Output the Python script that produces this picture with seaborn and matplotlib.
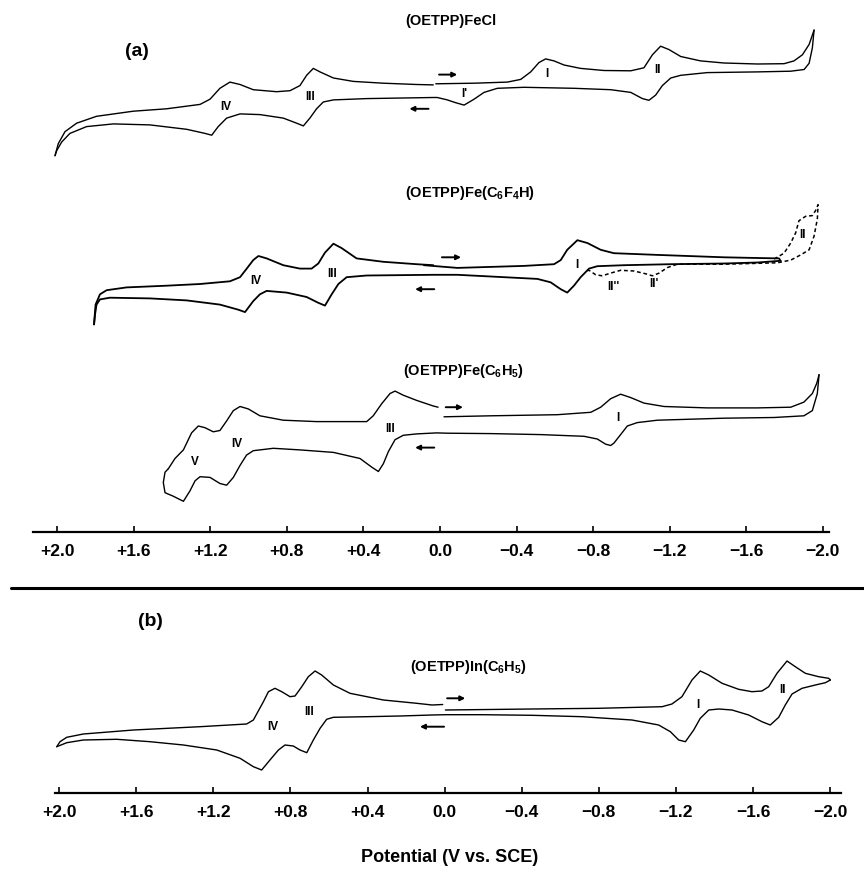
import numpy as np
import matplotlib
matplotlib.use('Agg')
import matplotlib.pyplot as plt
from matplotlib.lines import Line2D
import seaborn as sns

sns.set_theme(style='white')
plt.rcParams['font.family'] = ['Liberation Sans', 'DejaVu Sans']
plt.rcParams['text.color'] = 'black'
plt.rcParams['xtick.color'] = 'black'
plt.rcParams['mathtext.fontset'] = 'custom'
plt.rcParams['mathtext.bf'] = 'Liberation Sans:bold'
plt.rcParams['mathtext.rm'] = 'Liberation Sans:bold'
plt.rcParams['mathtext.default'] = 'bf'

# ── data: potential (V vs SCE) and current (arb. units) ──────────
tick_vals = [2.0, 1.6, 1.2, 0.8, 0.4, 0.0, -0.4, -0.8, -1.2, -1.6, -2.0]
tick_text = ['+2.0', '+1.6', '+1.2', '+0.8', '+0.4', '0.0',
             '\u22120.4', '\u22120.8', '\u22121.2', '\u22121.6', '\u22122.0']

# (OETPP)FeCl
fecl_fwd_E = [0.022, -0.178, -0.352, -0.422, -0.474, -0.517, -0.552, -0.596, -0.648,
              -0.735, -0.857, -0.997, -1.066, -1.110, -1.153, -1.197, -1.258, -1.362,
              -1.484, -1.659, -1.798, -1.850, -1.894, -1.929, -1.955]
fecl_fwd_I = [6.2, 6.8, 7.9, 10.6, 18.1, 27.4, 31.1, 29.1, 25.0, 21.6, 19.5, 19.2, 22.2,
              35.2, 43.8, 40.4, 33.5, 29.1, 27.0, 26.0, 26.3, 29.1, 35.2, 45.5, 59.9]
fecl_rev_E = [-1.955, -1.946, -1.929, -1.903, -1.833, -1.659, -1.397, -1.258, -1.206,
              -1.162, -1.127, -1.092, -1.058, -0.997, -0.892, -0.700, -0.439, -0.300,
              -0.230, -0.178, -0.126, -0.082, -0.038, 0.014, 0.035, 0.383, 0.557,
              0.610, 0.645, 0.680, 0.714, 0.749, 0.819, 0.941, 1.045, 1.115, 1.159,
              1.193, 1.228, 1.324, 1.516, 1.707, 1.847, 1.934, 1.977, 2.003, 2.012]
fecl_rev_I = [59.9, 42.1, 26.7, 20.5, 18.8, 18.1, 17.4, 14.7, 12.0, 4.4, -5.1, -10.3,
              -8.6, -2.4, 0.3, 1.7, 2.7, 1.7, -2.4, -9.2, -15.1, -12.7, -9.9, -7.5,
              -7.5, -8.6, -9.9, -12.0, -18.8, -28.1, -35.9, -33.2, -28.1, -24.6,
              -23.9, -28.1, -36.6, -45.2, -43.4, -39.3, -34.9, -33.9, -36.6, -43.4,
              -52.0, -60.6, -65.7]
fecl_ret_E = [2.012, 1.995, 1.960, 1.899, 1.795, 1.603, 1.429, 1.254, 1.202, 1.150,
              1.098, 1.045, 0.976, 0.854, 0.784, 0.732, 0.697, 0.662, 0.627, 0.557,
              0.453, 0.296, 0.122, 0.035]
fecl_ret_I = [-65.7, -53.7, -41.7, -33.2, -26.3, -21.2, -18.8, -14.4, -9.2, 1.7, 7.9,
              5.5, 0.3, -1.7, -0.7, 4.4, 14.7, 21.6, 18.1, 12.0, 8.6, 6.8, 5.5, 5.1]

# (OETPP)Fe(C6F4H)
c6f4h_fwd_E = [0.084, -0.091, -0.265, -0.439, -0.596, -0.631, -0.665, -0.718, -0.770,
               -0.840, -0.909, -1.136, -1.484, -1.659, -1.772, -1.780]
c6f4h_fwd_I = [4.8, 2.1, 3.1, 4.1, 5.8, 9.9, 20.2, 29.8, 27.0, 20.2, 16.8, 15.1, 12.7,
               12.0, 11.6, 9.2]
c6f4h_rev_E = [-1.780, -1.659, -1.484, -1.206, -0.962, -0.822, -0.779, -0.735, -0.700,
               -0.665, -0.631, -0.578, -0.509, -0.265, -0.091, 0.035, 0.383, 0.488,
               0.531, 0.566, 0.601, 0.636, 0.697, 0.801, 0.906, 0.941, 0.976, 1.019,
               1.054, 1.150, 1.324, 1.516, 1.725, 1.777, 1.795, 1.803, 1.808]
c6f4h_rev_I = [9.2, 7.5, 6.5, 5.8, 4.8, 3.8, 1.4, -7.2, -15.7, -22.6, -19.2, -12.3,
               -8.9, -6.5, -4.8, -4.8, -5.5, -7.2, -14.0, -24.3, -35.6, -32.8, -27.0,
               -22.6, -20.9, -24.3, -31.1, -42.1, -39.7, -34.6, -30.4, -28.4, -27.7,
               -29.4, -34.6, -44.8, -54.4]
c6f4h_ret_E = [1.808, 1.800, 1.777, 1.742, 1.638, 1.429, 1.254, 1.098, 1.045, 1.010,
               0.976, 0.949, 0.906, 0.819, 0.732, 0.671, 0.636, 0.601, 0.557, 0.514,
               0.436, 0.296, 0.122, 0.035]
c6f4h_ret_I = [-54.4, -34.6, -24.3, -20.2, -17.4, -15.7, -14.0, -11.3, -7.2, 1.4, 9.9,
               14.0, 11.6, 4.8, 1.4, 1.4, 6.5, 17.4, 26.3, 21.9, 11.6, 8.2, 5.8, 4.8]
# dashed scan to -2.0 V
c6f4h_dash_E = [-1.746, -1.798, -1.833, -1.859, -1.876, -1.911, -1.946, -1.963, -1.976,
                -1.972, -1.955, -1.929, -1.885, -1.833, -1.763, -1.484, -1.240, -1.188,
                -1.145, -1.110, -1.075, -1.014, -0.944, -0.892, -0.848, -0.814, -0.779,
                -0.753]
c6f4h_dash_I = [10.9, 16.8, 27.0, 37.3, 49.3, 53.7, 54.4, 59.5, 65.3, 51.0, 33.9, 20.2,
                15.1, 9.9, 7.2, 5.8, 5.8, 2.4, -3.1, -5.8, -3.8, -1.0, -0.3, -3.1, -5.8,
                -4.8, -0.3, -1.0]

# (OETPP)Fe(C6H5)
c6h5_fwd_E = [-0.021, -0.265, -0.613, -0.788, -0.840, -0.892, -0.944, -0.997, -1.066,
              -1.171, -1.397, -1.659, -1.833, -1.902, -1.946, -1.969, -1.981]
c6h5_fwd_I = [8.2, 9.2, 10.3, 12.7, 17.8, 26.3, 30.8, 27.4, 21.9, 18.5, 17.1, 17.1,
              17.8, 22.9, 31.5, 41.7, 50.3]
c6h5_rev_E = [-1.981, -1.972, -1.946, -1.902, -1.746, -1.484, -1.136, -1.031, -0.979,
              -0.944, -0.909, -0.892, -0.866, -0.822, -0.753, -0.526, -0.265, -0.038,
              0.017, 0.122, 0.192, 0.235, 0.270, 0.296, 0.322, 0.357, 0.418, 0.557,
              0.732, 0.871, 0.976, 1.011, 1.045, 1.080, 1.115, 1.150, 1.202, 1.254,
              1.280, 1.307, 1.341, 1.394, 1.437, 1.446, 1.437, 1.420]
c6h5_rev_I = [50.3, 31.5, 14.4, 9.2, 7.5, 6.8, 4.8, 2.4, -1.0, -9.6, -18.1, -20.5,
              -19.2, -14.0, -11.3, -9.6, -8.6, -8.2, -7.9, -8.9, -10.3, -14.7, -26.7,
              -38.7, -46.5, -42.1, -33.5, -27.4, -24.9, -23.3, -25.7, -30.1, -40.4,
              -52.4, -60.2, -58.5, -52.4, -51.7, -55.8, -66.0, -76.3, -71.2, -67.7,
              -57.5, -47.2, -43.8]
c6h5_ret_E = [1.420, 1.385, 1.341, 1.298, 1.263, 1.228, 1.185, 1.150, 1.115, 1.080,
              1.045, 1.002, 0.941, 0.819, 0.645, 0.383, 0.349, 0.305, 0.261, 0.235,
              0.192, 0.122, 0.035, 0.010]
c6h5_ret_I = [-43.8, -33.5, -24.9, -7.8, -1.0, -2.7, -6.8, -5.5, 4.1, 14.4, 18.5, 16.1,
              9.2, 4.8, 3.4, 3.4, 9.2, 21.2, 31.5, 33.9, 29.8, 24.6, 19.0, 17.8]

# (OETPP)In(C6H5)
in_fwd_E = [-0.004, -0.453, -0.799, -1.128, -1.179, -1.231, -1.283, -1.326, -1.370,
            -1.439, -1.525, -1.594, -1.646, -1.681, -1.724, -1.776, -1.819, -1.871,
            -1.940, -1.992, -2.001]
in_fwd_I = [1.0, 2.0, 2.7, 4.3, 7.0, 14.3, 31.0, 40.0, 36.0, 27.7, 21.7, 19.3, 20.0,
            24.3, 37.7, 50.0, 44.3, 37.7, 34.3, 32.7, 31.0]
in_rev_E = [-2.001, -1.975, -1.923, -1.854, -1.802, -1.767, -1.733, -1.689, -1.646,
            -1.577, -1.491, -1.422, -1.370, -1.326, -1.292, -1.249, -1.214, -1.171,
            -1.110, -0.972, -0.713, -0.453, -0.194, -0.004, 0.065, 0.231, 0.404,
            0.577, 0.612, 0.646, 0.681, 0.715, 0.750, 0.785, 0.828, 0.862, 0.906,
            0.949, 0.992, 1.061, 1.182, 1.355, 1.528, 1.701, 1.874, 1.960, 2.012]
in_rev_I = [31.0, 28.3, 26.0, 22.7, 17.0, 6.0, -6.3, -14.0, -10.7, -4.0, 1.0, 2.0, 1.0,
            -7.3, -19.0, -30.7, -29.0, -20.7, -14.0, -9.0, -5.7, -4.3, -3.7, -3.7,
            -4.0, -5.0, -5.7, -6.3, -8.3, -17.3, -29.0, -41.7, -39.0, -35.0, -34.0,
            -39.0, -49.0, -59.0, -55.7, -47.3, -39.0, -34.0, -30.7, -28.3, -29.0,
            -31.7, -35.7]
in_ret_E = [2.012, 1.995, 1.960, 1.874, 1.614, 1.269, 1.027, 0.992, 0.940, 0.914, 0.880,
            0.845, 0.802, 0.776, 0.741, 0.707, 0.672, 0.638, 0.577, 0.491, 0.318,
            0.145, 0.065, 0.010]
in_ret_I = [-35.7, -30.7, -26.3, -23.0, -19.0, -15.7, -13.0, -9.0, 9.3, 19.3, 22.7,
            19.3, 14.3, 15.0, 24.3, 34.3, 40.0, 36.0, 26.0, 17.7, 11.0, 7.7, 6.0, 6.5]

# peak labels: (text, E, current)
fecl_labels = [('IV', 1.118, -17.1), ('III', 0.680, -7.5), ("I'", -0.126, -4.1),
               ('I', -0.561, 16.4), ('II', -1.136, 19.8)]
c6f4h_labels = [('IV', 0.962, -10.6), ('III', 0.566, -3.8), ('I', -0.714, 4.8),
                ("II''", -0.906, -17.4), ("II'", -1.119, -14.0), ('II', -1.897, 34.6)]
c6h5_labels = [('V', 1.280, -36.9), ('IV', 1.063, -18.8), ('III', 0.261, -4.4),
               ('I', -0.930, 7.5)]
in_labels = [('IV', 0.892, -16.3), ('III', 0.702, -0.7), ('I', -1.312, 6.0),
             ('II', -1.753, 21.0)]

# scan-direction arrows: (E tail, E head, current)
fecl_arrows = [(0.005, -0.09, 15.4), (0.06, 0.16, -18.8)]
c6f4h_arrows = [(-0.01, -0.11, 12.7), (0.03, 0.13, -19.2)]
c6h5_arrows = [(-0.03, -0.12, 17.8), (0.03, 0.13, -22.6)]
in_arrows = [(-0.013, -0.107, 12.7), (0.003, 0.128, -15.7)]

W, H = 864, 873
fig = plt.figure(figsize=(W / 100, H / 100), dpi=100)

# panel (a): axis line at 532 px, x from 33 to 829 px
ax_a = fig.add_axes([33 / W, 1 - 532 / H, (829 - 33) / W, 532 / H])
ax_a.set_xlim(2.127, -2.033)
ax_a.set_ylim(0, 532)
# panel (b): axis line at 792.5 px, x from 55 to 841 px
ax_b = fig.add_axes([55 / W, 1 - 792.5 / H, (841 - 55) / W, 192.5 / H])
ax_b.set_xlim(2.021, -2.056)
ax_b.set_ylim(0, 192.5)

for ax in (ax_a, ax_b):
    ax.patch.set_alpha(0)
    for s in ('top', 'left', 'right'):
        ax.spines[s].set_visible(False)
    ax.spines['bottom'].set_linewidth(1.6)
    ax.spines['bottom'].set_color('black')
    ax.set_yticks([])
    ax.set_xticks(tick_vals)
    ax.set_xticklabels(tick_text, fontsize=12.5, fontweight='bold', color='black')
    ax.tick_params(axis='x', direction='in', length=4, width=1.2, pad=9,
                   colors='black', bottom=True)
    ax.grid(False)


def draw_branches(ax, branches, offset, lw, ls='-'):
    for E, I in branches:
        sns.lineplot(x=E, y=np.array(I) + offset, sort=False, estimator=None,
                     ax=ax, color='black', lw=lw, linestyle=ls,
                     solid_joinstyle='round', solid_capstyle='round')


def mark(ax, labels, arrows, offset):
    for txt, e, c in labels:
        ax.text(e, c + offset, txt, ha='center', va='center', fontsize=8.5,
                fontweight='bold', color='black')
    for e0, e1, c in arrows:
        ax.annotate('', xy=(e1, c + offset), xytext=(e0, c + offset),
                    arrowprops=dict(arrowstyle='-|>', lw=1.4, color='black',
                                    mutation_scale=7, shrinkA=0, shrinkB=0))


off1, off2, off3, off4 = 442, 262, 107, 81.5
draw_branches(ax_a, [(fecl_fwd_E, fecl_fwd_I), (fecl_rev_E, fecl_rev_I),
                     (fecl_ret_E, fecl_ret_I)], off1, 1.0)
draw_branches(ax_a, [(c6f4h_fwd_E, c6f4h_fwd_I), (c6f4h_rev_E, c6f4h_rev_I),
                     (c6f4h_ret_E, c6f4h_ret_I)], off2, 1.3)
draw_branches(ax_a, [(c6f4h_dash_E, c6f4h_dash_I)], off2, 1.1, ls=(0, (2.5, 1.8)))
draw_branches(ax_a, [(c6h5_fwd_E, c6h5_fwd_I), (c6h5_rev_E, c6h5_rev_I),
                     (c6h5_ret_E, c6h5_ret_I)], off3, 1.0)
draw_branches(ax_b, [(in_fwd_E, in_fwd_I), (in_rev_E, in_rev_I),
                     (in_ret_E, in_ret_I)], off4, 1.0)

mark(ax_a, fecl_labels, fecl_arrows, off1)
mark(ax_a, c6f4h_labels, c6f4h_arrows, off2)
mark(ax_a, c6h5_labels, c6h5_arrows, off3)
mark(ax_b, in_labels, in_arrows, off4)

ax_a.text(-0.057, 511, '(OETPP)FeCl', ha='center', va='center', fontsize=10.5,
          fontweight='bold')
ax_a.text(-0.157, 339, r'(OETPP)Fe(C$_6$F$_4$H)', ha='center', va='center',
          fontsize=10.5, fontweight='bold')
ax_a.text(-0.125, 161, r'(OETPP)Fe(C$_6$H$_5$)', ha='center', va='center',
          fontsize=10.5, fontweight='bold')
ax_b.text(-0.121, 125.5, r'(OETPP)In(C$_6$H$_5$)', ha='center', va='center',
          fontsize=10.5, fontweight='bold')

fig.text(137 / W, 1 - 51 / H, '(a)', ha='center', va='center', fontsize=14,
         fontweight='bold')
fig.text(150 / W, 1 - 622 / H, '(b)', ha='center', va='center', fontsize=14,
         fontweight='bold')
fig.text(450 / W, 1 - 858 / H, 'Potential (V vs. SCE)', ha='center', va='center',
         fontsize=13, fontweight='bold')

fig.add_artist(Line2D([11 / W, 1.0], [1 - 588 / H, 1 - 588 / H], lw=2.2,
                      color='black'))

fig.savefig('out.png', dpi=100)
